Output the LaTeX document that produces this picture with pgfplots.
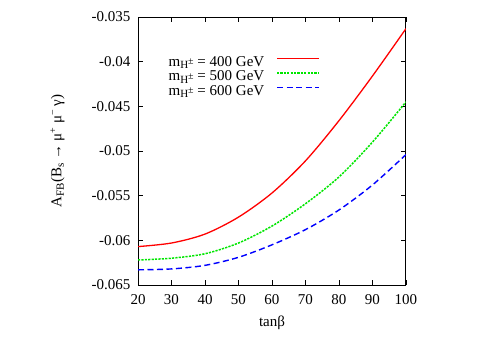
\documentclass[border=0pt]{standalone}
\usepackage{fontspec}
\setmainfont{Liberation Serif}
\usepackage{pgfplots}
\pgfplotsset{compat=1.18}
\definecolor{gpred}{RGB}{255,0,0}
\definecolor{gpgreen}{RGB}{0,230,0}
\definecolor{gpblue}{RGB}{0,0,255}
\newcommand{\sub}[1]{\raisebox{-0.35ex}{\fontsize{11}{11}\selectfont #1}}
\newcommand{\sups}[1]{\raisebox{0.75ex}{\fontsize{10}{10}\selectfont #1}}
\newcommand{\mh}{m\sub{H\sups{±}}}

\begin{document}
\begin{tikzpicture}[font=\fontsize{15}{18}\selectfont]
\path[use as bounding box] (0,0) rectangle (495pt,346pt);
\begin{axis}[
  at={(138pt,61pt)}, anchor=south west,
  width=268pt, height=268pt, scale only axis,
  xmin=20, xmax=100, ymin=-0.065, ymax=-0.035,
  xtick={20,30,...,100},
  ytick={-0.065,-0.06,-0.055,-0.05,-0.045,-0.04,-0.035},
  yticklabels={-0.065,-0.06,-0.055,-0.05,-0.045,-0.04,-0.035},
  scaled y ticks=false,
  /pgf/number format/assume math mode=true,
  xticklabel style={yshift=-6pt},
  yticklabel style={xshift=-4pt},
  tick align=inside, major tick length=5pt,
  axis line style={line width=1pt},
  tick style={line width=0.8pt, black},
  xlabel={tanβ},
  ylabel={A\sub{FB}(B\sub{s} → μ\sups{+} μ\sups{−} γ)},
  xlabel style={at={(axis description cs:0.5,-0.142)}, anchor=center},
  ylabel style={at={(axis description cs:-0.30,0.5)}, anchor=center},
  legend style={draw=none, fill=none, at={(axis description cs:0.679,0.862)},
    anchor=north east, inner sep=0pt, row sep=-1pt, /tikz/column sep=10pt},
  legend cell align=right, legend plot pos=right,
  legend image code/.code={\draw[#1] (0pt,3.5pt) -- (42pt,3.5pt);},
]
\addplot[gpred, line width=1.3pt, smooth] coordinates {
(20,-0.0607) (30,-0.0603) (40,-0.0593) (50,-0.0574) (60,-0.0547)
(70,-0.0511) (80,-0.0466) (90,-0.0416) (100,-0.0363)};
\addlegendentry{\mh{} = 400 GeV}
\addplot[gpgreen, line width=1.5pt, smooth, dash pattern=on 2.2pt off 1.2pt] coordinates {
(20,-0.0622) (30,-0.0620) (40,-0.0615) (50,-0.0603) (60,-0.0584)
(70,-0.0559) (80,-0.0529) (90,-0.0490) (100,-0.0445)};
\addlegendentry{\mh{} = 500 GeV}
\addplot[gpblue, line width=1.4pt, smooth, dash pattern=on 6pt off 3.5pt] coordinates {
(20,-0.0633) (30,-0.0632) (40,-0.0628) (50,-0.0619) (60,-0.0605)
(70,-0.0588) (80,-0.0566) (90,-0.0538) (100,-0.0504)};
\addlegendentry{\mh{} = 600 GeV}
\end{axis}
\end{tikzpicture}
\end{document}
